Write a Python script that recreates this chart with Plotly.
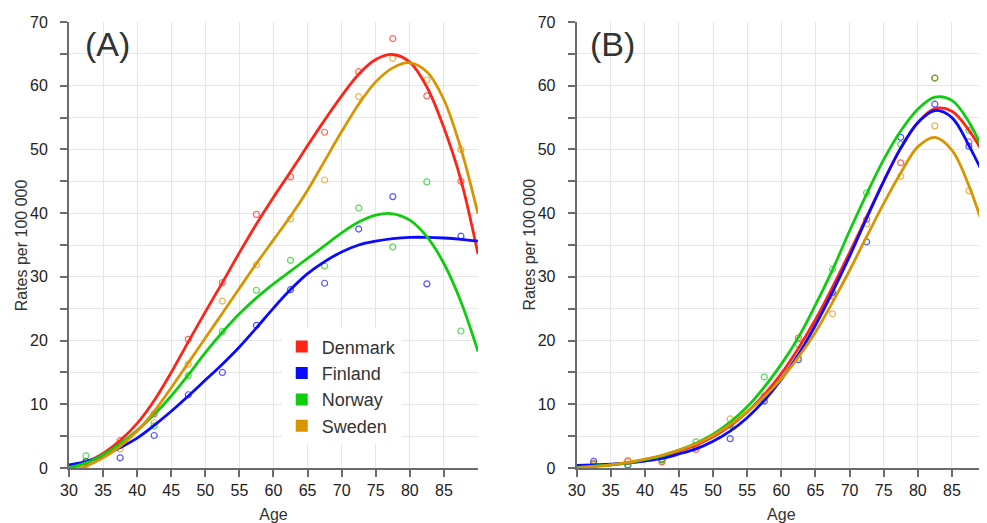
import plotly.graph_objects as go

# ---------------- data ----------------
countries = ["Denmark", "Finland", "Norway", "Sweden"]
colors = ["#ff2418", "#0a0aff", "#0fcc0f", "#d99500"]

age_points = [32.5, 37.5, 42.5, 47.5, 52.5, 57.5, 62.5, 67.5, 72.5, 77.5, 82.5, 87.5]
age_curve = [30, 32.5, 35, 37.5, 40, 42.5, 45, 47.5, 50, 52.5, 55, 57.5, 60,
             62.5, 65, 67.5, 70, 72.5, 75, 77.5, 80, 82.5, 85, 87.5, 90]

# Panel A observed rates
a_denmark = [1.0, 4.3, 8.5, 20.2, 29.1, 39.8, 45.7, 52.7, 62.2, 67.4, 58.4, 45.0]
a_finland = [1.0, 1.6, 5.1, 11.5, 15.0, 22.4, 28.0, 29.0, 37.5, 42.6, 28.9, 36.4]
a_norway = [1.9, 3.8, 6.6, 14.5, 21.4, 27.9, 32.6, 31.7, 40.8, 34.7, 44.9, 21.5]
a_sweden = [0.5, 3.0, 7.1, 16.3, 26.2, 31.9, 39.1, 45.2, 58.3, 64.3, 60.9, 50.0]

# Panel A fitted curves
a_denmark_fit = [-0.1, 0.9, 2.3, 4.3, 7.0, 10.6, 15.0, 19.8, 24.5, 29.1, 33.8, 38.3, 42.5,
                 46.5, 50.6, 54.6, 58.4, 61.8, 64.1, 64.9, 63.7, 59.8, 53.4, 45.2, 33.6]
a_finland_fit = [0.5, 1.0, 1.9, 3.2, 4.7, 6.7, 8.9, 11.3, 13.8, 16.3, 19.0, 22.0, 25.1,
                 28.0, 30.5, 32.4, 33.9, 35.0, 35.6, 36.0, 36.2, 36.2, 36.1, 35.9, 35.6]
a_norway_fit = [0.0, 0.8, 2.1, 3.8, 5.9, 8.4, 11.3, 14.6, 18.1, 21.3, 24.2, 26.7, 28.9,
                30.9, 32.9, 34.9, 36.9, 38.6, 39.7, 39.9, 38.9, 36.3, 32.1, 26.1, 18.3]
a_sweden_fit = [-0.5, 0.3, 1.6, 3.4, 5.8, 8.9, 12.6, 16.5, 20.4, 24.3, 28.2, 32.1, 35.8,
                39.5, 43.6, 48.2, 52.8, 57.1, 60.6, 62.8, 63.6, 62.2, 57.8, 50.1, 39.9]

# Panel B observed rates
b_denmark = [0.7, 1.0, 0.95, 2.9, 6.8, 11.3, 20.4, 27.0, 39.0, 47.9, 61.2, 51.2]
b_finland = [1.05, 0.5, 1.4, 3.5, 4.6, 10.5, 17.0, 27.5, 35.5, 51.9, 57.1, 50.5]
b_norway = [0.6, 0.4, 1.3, 4.1, 6.7, 14.3, 19.4, 31.2, 43.2, 50.8, 61.2, 53.0]
b_sweden = [0.5, 1.2, 1.1, 3.3, 7.7, 10.6, 17.3, 24.2, 38.3, 45.8, 53.7, 43.5]

# Panel B fitted curves
b_denmark_fit = [0.1, 0.3, 0.5, 0.8, 1.2, 1.8, 2.6, 3.6, 4.9, 6.6, 8.8, 11.5, 14.8,
                 18.8, 23.3, 28.4, 33.8, 39.4, 45.0, 50.2, 54.2, 56.4, 56.0, 53.0, 48.7]
b_finland_fit = [0.4, 0.5, 0.6, 0.8, 1.1, 1.5, 2.2, 3.0, 4.2, 5.8, 7.9, 10.6, 13.9,
                 17.8, 22.4, 27.6, 33.2, 39.2, 45.0, 50.2, 54.2, 56.1, 55.0, 50.6, 45.2]
b_norway_fit = [0.1, 0.3, 0.5, 0.8, 1.3, 1.9, 2.8, 3.9, 5.3, 7.2, 9.6, 12.7, 16.3,
                20.5, 25.6, 31.1, 37.2, 43.0, 48.4, 52.9, 56.3, 58.2, 57.7, 54.3, 48.8]
b_sweden_fit = [0.0, 0.2, 0.5, 0.9, 1.4, 2.0, 2.8, 3.8, 5.1, 6.8, 8.8, 11.2, 14.0,
                17.4, 21.3, 26.0, 31.0, 36.3, 41.5, 46.3, 50.4, 51.9, 49.9, 44.3, 36.5]

x_tickvals = [30, 35, 40, 45, 50, 55, 60, 65, 70, 75, 80, 85]
y_tickvals = [0, 5, 10, 15, 20, 25, 30, 35, 40, 45, 50, 55, 60, 65, 70]
y_ticktext = ["0", "", "10", "", "20", "", "30", "", "40", "", "50", "", "60", "", "70"]
panel_labels = ["(A)", "(B)"]
x_title = "Age"
y_title = "Rates per 100 000"

panels = [
    ([a_denmark, a_finland, a_norway, a_sweden],
     [a_denmark_fit, a_finland_fit, a_norway_fit, a_sweden_fit]),
    ([b_denmark, b_finland, b_norway, b_sweden],
     [b_denmark_fit, b_finland_fit, b_norway_fit, b_sweden_fit]),
]

# ---------------- figure ----------------
fig = go.Figure()
FONT = "Liberation Sans, Arial, sans-serif"
axis_col = "#6b6b6b"
grid_col = "#e6e6e6"

for p, (obs, fits) in enumerate(panels):
    xa = "x" if p == 0 else "x2"
    ya = "y" if p == 0 else "y2"
    for i in range(4):
        fig.add_trace(go.Scatter(
            x=age_points, y=obs[i], mode="markers", xaxis=xa, yaxis=ya,
            marker=dict(symbol="circle-open", size=6, color=colors[i],
                        opacity=0.7, line=dict(width=1.2, color=colors[i])),
            showlegend=False, cliponaxis=False))
    for i in range(4):
        fig.add_trace(go.Scatter(
            x=age_curve, y=fits[i], mode="lines", xaxis=xa, yaxis=ya,
            line=dict(color=colors[i], width=2.8, shape="spline", smoothing=1.0),
            showlegend=False))

for i in range(4):
    fig.add_trace(go.Scatter(
        x=[None], y=[None], mode="markers", name=countries[i],
        marker=dict(symbol="square", size=13, color=colors[i]),
        showlegend=True))

common_x = dict(range=[30, 90], tickvals=x_tickvals, ticks="outside", ticklen=7,
                tickwidth=1.5, tickcolor=axis_col, showline=True, linecolor=axis_col,
                linewidth=2, showgrid=True, gridcolor=grid_col, gridwidth=1,
                zeroline=False, automargin=False,
                tickfont=dict(size=16, color="#222", family=FONT),
                title=dict(text=x_title, font=dict(size=16, color="#333", family=FONT),
                           standoff=15))
common_y = dict(range=[0, 70], tickvals=y_tickvals, ticktext=y_ticktext,
                ticks="outside", ticklen=7, tickwidth=1.5, tickcolor=axis_col,
                showline=True, linecolor=axis_col, linewidth=2, showgrid=True,
                gridcolor=grid_col, gridwidth=1, zeroline=False, automargin=False,
                ticklabelstandoff=9,
                tickfont=dict(size=16, color="#222", family=FONT))

# page body adds an 8px offset, so the figure is 8px smaller than the window
fig.update_layout(
    width=979, height=515,
    margin=dict(l=61, r=1, t=14, b=55, autoexpand=False),
    paper_bgcolor="white", plot_bgcolor="white",
    font=dict(family=FONT, color="#333"),
    xaxis=dict(domain=[0, 0.446], anchor="y", **common_x),
    yaxis=dict(domain=[0, 1], anchor="x", **common_y),
    xaxis2=dict(domain=[0.5536, 1], anchor="y2", **common_x),
    yaxis2=dict(domain=[0, 1], anchor="x2", **common_y),
    legend=dict(x=0.232, y=0.313, xanchor="left", yanchor="top",
                bgcolor="white", font=dict(size=18, color="#333", family=FONT),
                itemsizing="constant", tracegroupgap=0),
    showlegend=True,
)

for xp in (-0.052, 0.5012):
    fig.add_annotation(x=xp, y=0.5, xref="paper", yref="paper", text=y_title,
                       textangle=-90, showarrow=False, xanchor="center",
                       yanchor="middle",
                       font=dict(size=16, color="#333", family=FONT))

fig.add_annotation(x=32.1, y=66.6, xref="x", yref="y", text=panel_labels[0],
                   showarrow=False, xanchor="left", yanchor="middle",
                   font=dict(size=34, color="#333", family=FONT))
fig.add_annotation(x=31.7, y=66.6, xref="x2", yref="y2", text=panel_labels[1],
                   showarrow=False, xanchor="left", yanchor="middle",
                   font=dict(size=34, color="#333", family=FONT))

fig.write_html("out.html")
